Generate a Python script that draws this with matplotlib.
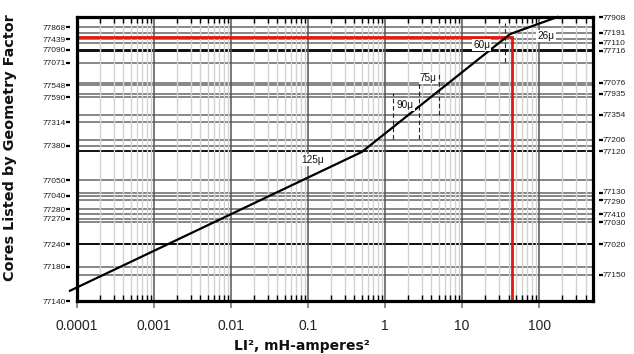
import matplotlib
matplotlib.use("Agg")
import matplotlib.pyplot as plt
import matplotlib.transforms as mtransforms
from matplotlib.ticker import LogLocator, FixedLocator, NullFormatter
import numpy as np

# ---------------- data ----------------
left_cores = ["77868", "77439", "77090", "77071", "77548", "77590", "77314", "77380",
              "77050", "77040", "77280", "77270", "77240", "77180", "77140"]
left_pos = [96.4, 92.1, 88.4, 83.9, 75.9, 71.8, 63.0, 54.6,
            42.6, 37.0, 32.3, 29.0, 20.0, 12.1, 0.0]
right_cores = ["77908", "77191", "77110", "77716", "77076", "77935", "77354", "77206",
               "77120", "77130", "77290", "77410", "77030", "77020", "77150"]
right_pos = [100.0, 94.4, 90.9, 88.1, 76.9, 72.9, 65.5, 56.7,
             52.7, 37.9, 35.6, 30.6, 27.8, 20.0, 9.2]
heavy_cores = ["77090", "77716", "77240", "77020", "77120"]

curve_x = [8.1e-5, 0.50, 42.0, 173.0]
curve_y = [3.6, 52.5, 94.0, 100.0]

red_x = 44.2
red_y = 93.0

bound_x = [1.28, 2.79, 5.07, 36.1]
bound_lo = [57.0, 57.0, 65.5, 84.0]
bound_hi = [73.2, 76.8, 80.3, 97.8]

perm_labels = ["125μ", "90μ", "75μ", "60μ", "26μ"]
perm_x = [0.116, 1.82, 3.65, 18.0, 123.0]
perm_y = [49.6, 69.0, 78.6, 90.1, 93.3]

xticks = [1e-4, 1e-3, 1e-2, 1e-1, 1, 10, 100]
xticklabels = ["0.0001", "0.001", "0.01", "0.1", "1", "10", "100"]
xlim = (1e-4, 500)
ylim = (0, 100)

# ---------------- figure ----------------
W, H = 634, 354
fig = plt.figure(figsize=(W / 100, H / 100), dpi=100)
ax = fig.add_axes([77 / W, 1 - 301 / H, (593 - 77) / W, (301 - 17) / H])
ax.set_xscale("log")
ax.set_xlim(*xlim)
ax.set_ylim(*ylim)

# vertical grid
ax.xaxis.set_major_locator(FixedLocator(xticks))
ax.xaxis.set_minor_locator(LogLocator(base=10, subs=np.arange(2, 10), numticks=20))
ax.xaxis.set_minor_formatter(NullFormatter())
ax.grid(True, which="minor", axis="x", color="#d2d2d2", lw=1.0, zorder=0)
ax.grid(True, which="major", axis="x", color="#555555", lw=1.1, zorder=0)

# horizontal core lines
for name, y in list(zip(left_cores, left_pos)) + list(zip(right_cores, right_pos)):
    if y <= 0 or y >= 100:
        continue
    if name in heavy_cores:
        ax.axhline(y, color="#111111", lw=1.4, zorder=1)
    else:
        ax.axhline(y, color="#666666", lw=1.1, zorder=1)

# red example lines
ax.plot([xlim[0], red_x, red_x], [red_y, red_y, ylim[0]], color="#e3160b",
        lw=2.0, zorder=3, solid_joinstyle="miter")

# permeability bounds (dashed)
for bx, lo, hi in zip(bound_x, bound_lo, bound_hi):
    ax.plot([bx, bx], [lo, hi], color="#222222", lw=0.8, ls=(0, (4, 2.5)), zorder=2)

# main curve
ax.plot(curve_x, curve_y, color="black", lw=1.6, zorder=4, clip_on=False)

# permeability labels
for t, x, y in zip(perm_labels, perm_x, perm_y):
    ax.text(x, y, t, ha="center", va="center", fontsize=7.2,
            family="Liberation Sans", color="#111111", zorder=5,
            bbox=dict(boxstyle="square,pad=0.12", fc="white", ec="none"))

# x ticks
ax.set_xticklabels(xticklabels, fontsize=10, family="Liberation Sans", color="#222222")
ax.tick_params(axis="x", which="major", direction="out", length=5, width=1.2,
               color="#777777", pad=8, top=False)
ax.tick_params(axis="x", which="minor", direction="in", length=4, width=1.0,
               color="black", top=True, bottom=True)

# left y ticks
ax.set_yticks(left_pos)
ax.set_yticklabels(left_cores, fontsize=6.0, family="Liberation Sans", color="#222222")
ax.tick_params(axis="y", which="both", length=0, pad=7.9)

# right y axis
ax2 = ax.twinx()
ax2.set_ylim(*ylim)
ax2.set_yticks(right_pos)
ax2.set_yticklabels(right_cores, fontsize=6.0, family="Liberation Sans", color="#222222")
ax2.tick_params(axis="y", which="both", length=0, pad=7.0)
for s in ax2.spines.values():
    s.set_visible(False)

# nudge the two most crowded right-hand labels apart slightly
nudge = {"77130": 1.4, "77290": -1.4}
for lab in ax2.get_yticklabels():
    d = nudge.get(lab.get_text())
    if d:
        lab.set_transform(lab.get_transform() +
                          mtransforms.ScaledTranslation(0, d / 100, fig.dpi_scale_trans))

# small dashes next to the y tick labels
trL = mtransforms.offset_copy(ax.get_yaxis_transform(), fig=fig, x=-8.6, y=0, units="dots")
ax.plot(np.zeros(len(left_pos)), left_pos, ls="none", marker="_", ms=3, mew=1.6,
        color="black", transform=trL, clip_on=False)
trR = mtransforms.offset_copy(ax.get_yaxis_transform(), fig=fig, x=8.0, y=0, units="dots")
ax.plot(np.ones(len(right_pos)), right_pos, ls="none", marker="_", ms=3, mew=1.6,
        color="black", transform=trR, clip_on=False)

for s in ax.spines.values():
    s.set_linewidth(2.3)
    s.set_color("black")
    s.set_zorder(6)

# axis labels
fig.text(10 / W, 1 - 148 / H, "Cores Listed by Geometry Factor", rotation=90,
         ha="center", va="center", fontsize=10.4, fontweight="bold",
         family="DejaVu Sans", color="#111111")
fig.text(302 / W, 1 - 346 / H, "LI², mH-amperes²", ha="center", va="center",
         fontsize=10.0, fontweight="bold", family="DejaVu Sans", color="#111111")

fig.savefig("out.png", dpi=100)
